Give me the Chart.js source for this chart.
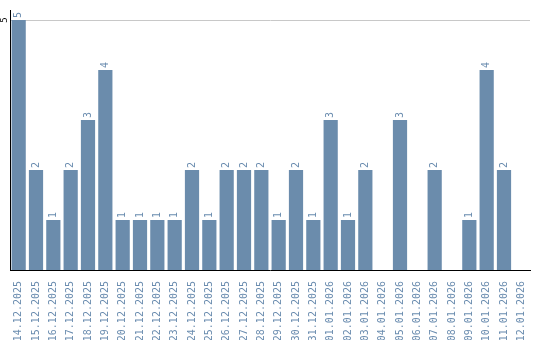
<!DOCTYPE html>
<html>
<head>
<meta charset="utf-8">
<script src="https://cdn.jsdelivr.net/npm/chart.js@4"></script>
<style>
  body { margin: 0; background: #fff; }
  #wrap { width: 540px; height: 340px; }
</style>
</head>
<body>
<div id="wrap"><canvas id="barChart"></canvas></div>
<script>
// dates shown on the x axis
const days = ['14.12.2025', '15.12.2025', '16.12.2025', '17.12.2025', '18.12.2025',
  '19.12.2025', '20.12.2025', '21.12.2025', '22.12.2025', '23.12.2025',
  '24.12.2025', '25.12.2025', '26.12.2025', '27.12.2025', '28.12.2025',
  '29.12.2025', '30.12.2025', '31.12.2025', '01.01.2026', '02.01.2026',
  '03.01.2026', '04.01.2026', '05.01.2026', '06.01.2026', '07.01.2026',
  '08.01.2026', '09.01.2026', '10.01.2026', '11.01.2026', '12.01.2026'];

// count per day
const counts = [5, 2, 1, 2, 3, 4, 1, 1, 1, 1,
  2, 1, 2, 2, 2, 1, 2, 1, 3, 1,
  2, 0, 3, 0, 2, 0, 1, 4, 2, 0];

// only tick on the y axis
const yTicks = [5];

const barColor = '#6b8cac';
const textColor = '#6a8caf';
const monoFont = "'DejaVu Sans Mono', monospace";

// rotated value above every bar (skips zeros) + rotated y tick labels
const rotatedLabels = {
  id: 'rotatedLabels',
  afterDraw(chart) {
    const ctx = chart.ctx;
    const meta = chart.getDatasetMeta(0);
    ctx.save();
    ctx.fillStyle = textColor;
    ctx.font = '10px ' + monoFont;
    ctx.textAlign = 'left';
    ctx.textBaseline = 'middle';
    meta.data.forEach((bar, i) => {
      const v = counts[i];
      if (!v) return;
      ctx.save();
      ctx.translate(bar.x, bar.y - 2);
      ctx.rotate(-Math.PI / 2);
      ctx.fillText(String(v), 0, 0);
      ctx.restore();
    });

    // y axis tick labels, turned like the reference
    const y = chart.scales.y;
    ctx.fillStyle = '#000';
    ctx.font = '9px ' + monoFont;
    ctx.textAlign = 'center';
    yTicks.forEach(t => {
      ctx.save();
      ctx.translate(y.left + 5, y.getPixelForValue(t));
      ctx.rotate(-Math.PI / 2);
      ctx.fillText(String(t), 0, 0);
      ctx.restore();
    });
    ctx.restore();
  }
};

const barChart = new Chart(document.getElementById('barChart'), {
  type: 'bar',
  data: {
    labels: days,
    datasets: [{
      data: counts,
      backgroundColor: barColor,
      categoryPercentage: 1,
      barPercentage: 0.82
    }]
  },
  options: {
    responsive: true,
    maintainAspectRatio: false,
    animation: false,
    layout: { padding: { top: 10, right: 10, left: 0, bottom: 0 } },
    plugins: {
      legend: { display: false },
      tooltip: { enabled: false }
    },
    scales: {
      x: {
        grid: { display: false },
        border: { color: '#000', width: 1 },
        ticks: {
          color: textColor,
          font: { family: monoFont, size: 10 },
          minRotation: 90,
          maxRotation: 90,
          autoSkip: false,
          padding: 3
        },
        afterFit(scale) { scale.height = 70; }
      },
      y: {
        min: 0,
        max: 5.2,
        afterBuildTicks(scale) {
          scale.ticks = yTicks.map(v => ({ value: v }));
        },
        grid: { color: '#c8c8c8', drawTicks: false },
        border: { color: '#000', width: 1 },
        ticks: { display: false },
        afterFit(scale) { scale.width = 10; }
      }
    }
  },
  plugins: [rotatedLabels]
});
</script>
</body>
</html>
